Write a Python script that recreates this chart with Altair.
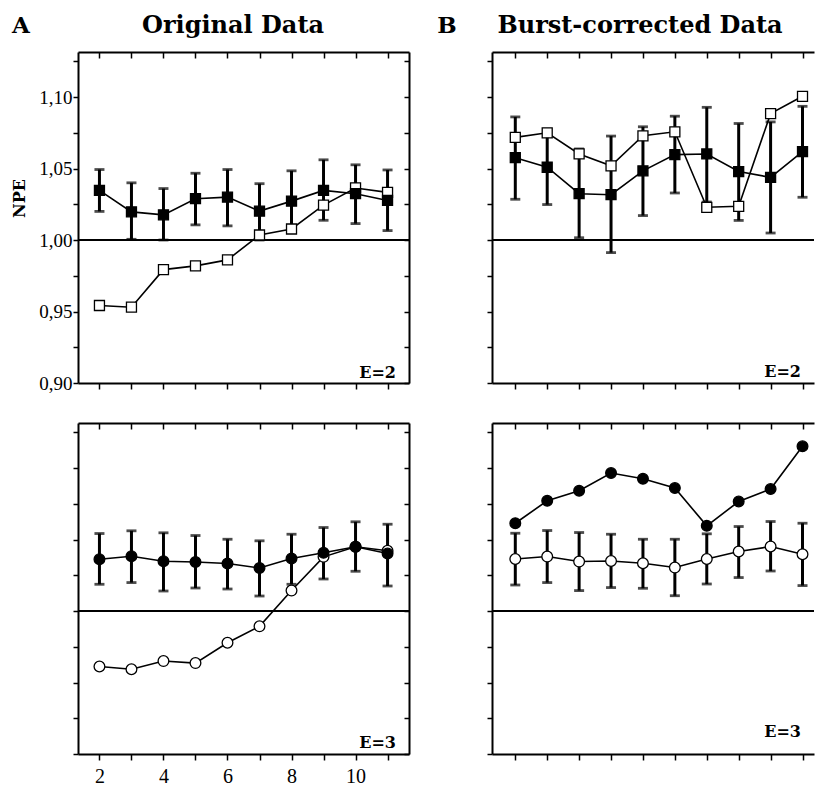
import altair as alt
import pandas as pd

x_vals = [2, 3, 4, 5, 6, 7, 8, 9, 10, 11]

# Panel A, E=2 (original data): filled squares with error bars, open squares
a2_filled = [1.0347, 1.0197, 1.0176, 1.0289, 1.0300, 1.0202, 1.0272, 1.0347, 1.0324, 1.0277]
a2_filled_hi = [1.0493, 1.0400, 1.0360, 1.0467, 1.0493, 1.0394, 1.0484, 1.0561, 1.0526, 1.0490]
a2_filled_lo = [1.0200, 1.0005, 1.0000, 1.0106, 1.0099, 1.0000, 1.0070, 1.0138, 1.0115, 1.0066]
a2_open = [0.9542, 0.9530, 0.9793, 0.9819, 0.9861, 1.0035, 1.0077, 1.0244, 1.0364, 1.0333]

# Panel B, E=2 (burst-corrected): filled squares with error bars, open squares
b2_filled = [1.0576, 1.0509, 1.0324, 1.0317, 1.0484, 1.0597, 1.0602, 1.0479, 1.0438, 1.0618]
b2_filled_hi = [1.0861, 1.0775, 1.0637, 1.0727, 1.0792, 1.0866, 1.0928, 1.0815, 1.0826, 1.0935]
b2_filled_lo = [1.0285, 1.0248, 1.0016, 0.9912, 1.0171, 1.0329, 1.0266, 1.0137, 1.0049, 1.0299]
b2_open = [1.0718, 1.0750, 1.0602, 1.0519, 1.0729, 1.0757, 1.0229, 1.0236, 1.0884, 1.1005]

# Panel A, E=3: filled circles with error bars, open circles
a3_filled = [1.0362, 1.0383, 1.0348, 1.0343, 1.0332, 1.0301, 1.0367, 1.0407, 1.0449, 1.0402]
a3_filled_hi = [1.0542, 1.0561, 1.0547, 1.0528, 1.0502, 1.0491, 1.0537, 1.0584, 1.0624, 1.0607]
a3_filled_lo = [1.0187, 1.0199, 1.0140, 1.0161, 1.0154, 1.0105, 1.0187, 1.0224, 1.0278, 1.0175]
a3_open = [0.9612, 0.9593, 0.9650, 0.9636, 0.9778, 0.9893, 1.0143, 1.0379, 1.0449, 1.0421]

# Panel B, E=3: open circles with error bars, filled circles
b3_open = [1.0364, 1.0381, 1.0346, 1.0350, 1.0334, 1.0304, 1.0364, 1.0416, 1.0451, 1.0397]
b3_open_hi = [1.0544, 1.0563, 1.0549, 1.0537, 1.0502, 1.0502, 1.0540, 1.0591, 1.0626, 1.0614]
b3_open_lo = [1.0182, 1.0199, 1.0143, 1.0164, 1.0159, 1.0107, 1.0189, 1.0234, 1.0280, 1.0178]
b3_filled = [1.0614, 1.0771, 1.0841, 1.0965, 1.0925, 1.0860, 1.0596, 1.0766, 1.0853, 1.1152]

y_ticks = [0.900, 0.925, 0.950, 0.975, 1.000, 1.025, 1.050, 1.075, 1.100, 1.125]
x_ticks = [2, 3, 4, 5, 6, 7, 8, 9, 10, 11]
ref_line = [1.0]

FONT = "Liberation Serif"
TFONT = "DejaVu Serif"
H = 331
Y_DOMAIN = [0.90, 1.1315]

y_label_expr = ("abs(round(datum.value*1000) % 50) == 0 ? "
                "replace(format(datum.value, '.2f'), '.', ',') : ''")
x_label_expr = "datum.value % 2 == 0 ? datum.value : ''"


def panel(width, x_domain, err_mean, err_lo, err_hi, err_shape, err_filled,
          other, other_shape, other_filled, label, label_dy,
          show_x_labels, show_y_labels, right_border,
          title_text=None, title_dx=0, letter=None, letter_dx=0, title_y=-19):
    df = pd.DataFrame({
        "x": x_vals, "m": err_mean, "lo": err_lo, "hi": err_hi, "o": other,
    })
    xs = alt.Scale(domain=x_domain, nice=False, zero=False)
    ys = alt.Scale(domain=Y_DOMAIN, nice=False, zero=False)
    base = alt.Chart(df)

    bottom_axis = alt.Axis(
        orient="bottom", values=x_ticks, labelExpr=x_label_expr,
        labels=show_x_labels, title=None, grid=False, domainWidth=2,
        domainColor="black", tickColor="black", tickWidth=1.5, tickSize=6,
        labelFont=FONT, labelFontSize=20, labelColor="black", labelPadding=6,
    )
    left_axis = alt.Axis(
        orient="left", values=y_ticks, labelExpr=y_label_expr,
        labels=show_y_labels, title="NPE" if show_y_labels else None,
        grid=False, domainWidth=2, domainColor="black", tickColor="black",
        tickWidth=1.5, tickSize=5, labelFont=FONT, labelFontSize=19,
        labelColor="black", labelPadding=1, titleFont=TFONT, titleFontSize=16,
        titleFontWeight="bold", titleColor="black", titlePadding=11,
        titleY=146,
    )
    top_axis = alt.Axis(
        orient="top", values=x_ticks, labels=False, title=None, grid=False,
        domainWidth=2, domainColor="black", tickColor="black", tickWidth=1.5,
        tickSize={"expr": "-6"},
    )
    right_axis = alt.Axis(
        orient="right", values=y_ticks, labels=False, title=None, grid=False,
        domainWidth=2, domainColor="black", tickColor="black", tickWidth=1.5,
        tickSize={"expr": "-5"},
    )

    # error bar stems (carry bottom / left axes)
    stems = base.mark_rule(color="black", strokeWidth=3).encode(
        x=alt.X("x:Q", scale=xs, axis=bottom_axis),
        y=alt.Y("lo:Q", scale=ys, axis=left_axis),
        y2="hi:Q",
    )
    cap_lo = base.mark_tick(orient="horizontal", color="black", size=10,
                            thickness=2.8).encode(
        x=alt.X("x:Q", scale=xs, axis=None),
        y=alt.Y("lo:Q", scale=ys, axis=None),
    )
    cap_hi = base.mark_tick(orient="horizontal", color="black", size=10,
                            thickness=2.8).encode(
        x=alt.X("x:Q", scale=xs, axis=None),
        y=alt.Y("hi:Q", scale=ys, axis=None),
    )
    ref = alt.Chart(pd.DataFrame({"r": ref_line})).mark_rule(
        color="black", strokeWidth=2).encode(
        y=alt.Y("r:Q", scale=ys, axis=None))

    # top and right frame axes
    top = base.mark_point(opacity=0).encode(
        x=alt.X("x:Q", scale=xs, axis=top_axis),
        y=alt.Y("m:Q", scale=ys, axis=right_axis if right_border else None),
    )

    def series(field, shape, filled, size):
        line = base.mark_line(color="black", strokeWidth=1.6).encode(
            x=alt.X("x:Q", scale=xs, axis=None),
            y=alt.Y(f"{field}:Q", scale=ys, axis=None),
        )
        pts = base.mark_point(
            shape=shape, filled=True, size=size,
            fill="black" if filled else "white",
            stroke="black", strokeWidth=1.3, opacity=1,
        ).encode(
            x=alt.X("x:Q", scale=xs, axis=None),
            y=alt.Y(f"{field}:Q", scale=ys, axis=None),
        )
        return [line, pts]

    size_err = 100 if err_shape == "square" else 115
    size_oth = 100 if other_shape == "square" else 115

    layers = [ref, top, stems, cap_lo, cap_hi]
    layers += series("o", other_shape, other_filled, size_oth)
    layers += series("m", err_shape, err_filled, size_err)

    lab = alt.Chart(pd.DataFrame({"t": [label]})).mark_text(
        font=TFONT, fontSize=16, fontWeight="bold", align="right",
        baseline="alphabetic", color="black",
    ).encode(text="t:N", x=alt.value(width - 13), y=alt.value(H - label_dy))
    layers.append(lab)

    if title_text:
        tt = alt.Chart(pd.DataFrame({"t": [title_text]})).mark_text(
            font=TFONT, fontSize=24, fontWeight="bold", align="center",
            baseline="alphabetic", color="black",
        ).encode(text="t:N", x=alt.value(title_dx), y=alt.value(title_y))
        layers.append(tt)
    if letter:
        lt = alt.Chart(pd.DataFrame({"t": [letter]})).mark_text(
            font=TFONT, fontSize=23, fontWeight="bold", align="center",
            baseline="alphabetic", color="black",
        ).encode(text="t:N", x=alt.value(letter_dx), y=alt.value(title_y))
        layers.append(lt)

    return alt.layer(*layers).resolve_axis(x="independent", y="independent").properties(
        width=width, height=H)


LW = 331
RW = 322
left_dom = [1.33, 11.67]
right_dom = [1.27, 11.36]

tl = panel(LW, left_dom, a2_filled, a2_filled_lo, a2_filled_hi, "square", True,
           a2_open, "square", False, "E=2", 5, False, True, True,
           title_text="Original Data", title_dx=155, letter="A", letter_dx=-57)
tr = panel(RW, right_dom, b2_filled, b2_filled_lo, b2_filled_hi, "square", True,
           b2_open, "square", False, "E=2", 6, False, False, False,
           title_text="Burst-corrected Data", title_dx=148, letter="B", letter_dx=-45)
bl = panel(LW, left_dom, a3_filled, a3_filled_lo, a3_filled_hi, "circle", True,
           a3_open, "circle", False, "E=3", 6, True, False, True)
br = panel(RW, right_dom, b3_open, b3_open_lo, b3_open_hi, "circle", False,
           b3_filled, "circle", True, "E=3", 17, False, False, False)

chart = alt.concat(
    tl, tr, bl, br, columns=2, spacing={"row": 40, "column": 83}, bounds="flush"
).properties(
    padding={"left": 11, "top": 14, "right": 0, "bottom": 5},
    background="white",
).configure_view(stroke=None)

chart.save("out.html", embed_options={"renderer": "svg", "actions": False})
